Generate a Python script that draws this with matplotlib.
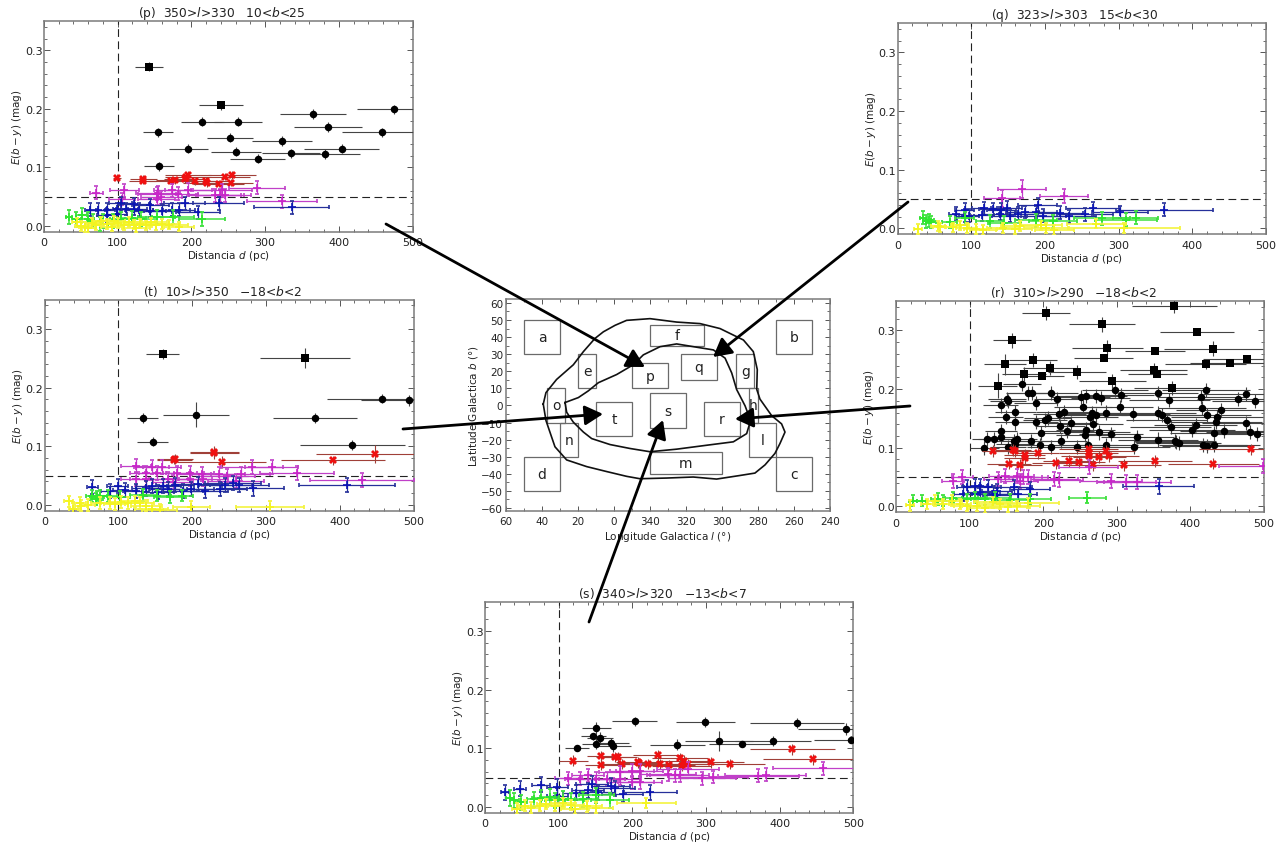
import matplotlib
matplotlib.use('Agg')
import matplotlib.pyplot as plt
from matplotlib.patches import Rectangle
from matplotlib.ticker import MultipleLocator

plt.rcParams['font.family'] = 'DejaVu Sans'
plt.rcParams['mathtext.fontset'] = 'dejavusans'

W, H = 1288, 845

# ---- panel p
p_sq_d = [143, 240]
p_sq_e = [.272, .206]
p_sq_xe = [19, 30]
p_sq_ye = [.008, .008]
p_ci_d = [155, 215, 263, 252, 196, 156, 261, 290, 323, 335, 381, 404, 365, 385, 459, 475]
p_ci_e = [.160, .178, .178, .151, .132, .102, .127, .115, .145, .124, .123, .132, .191, .169, .160, .199]
p_ci_xe = [20, 29, 33, 31, 26, 20, 34, 37, 41, 39, 48, 51, 45, 46, 55, 50]
p_ci_ye = .008
p_re_d = [99, 134, 135, 172, 178, 191, 195, 193, 205, 220, 221, 237, 245, 255, 254]
p_re_e = [.082, .077, .081, .077, .078, .080, .087, .083, .076, .077, .073, .072, .084, .087, .074]
p_re_xe = [6, 18, 18, 30, 26, 28, 31, 29, 29, 33, 32, 35, 34, 33, 30]
p_ma_d = [71, 109, 106, 153, 155, 174, 182, 196, 232, 239, 245, 242, 289, 323, 153, 159]
p_ma_e = [.057, .061, .046, .055, .057, .061, .055, .062, .052, .052, .052, .061, .065, .042, .046, .049]
p_ma_xe = [9, 20, 18, 26, 30, 25, 27, 32, 35, 33, 36, 40, 38, 48, 25, 28]
p_bl_d = [63, 73, 85, 85, 99, 99, 111, 122, 122, 129, 144, 144, 160, 173, 183, 191, 209, 237, 336, 104]
p_bl_e = [.028, .028, .028, .018, .020, .029, .029, .037, .029, .028, .035, .026, .026, .028, .028, .039, .023, .039, .032, .039]
p_bl_xe = [8, 10, 12, 13, 14, 15, 17, 20, 18, 19, 25, 22, 24, 25, 22, 28, 30, 35, 51, 16]
p_gr_d = [34, 44, 51, 67, 80, 94, 105, 119, 132, 153, 175, 214, 76, 60]
p_gr_e = [.016, .011, .019, .009, .009, .009, .012, .013, .012, .015, .015, .012, .003, .012]
p_gr_xe = [4, 6, 7, 9, 12, 14, 16, 20, 22, 25, 28, 31, 11, 8]
p_ye_d = [45, 50, 55, 65, 70, 78, 85, 92, 100, 108, 115, 122, 130, 138, 145, 152, 160, 170, 183, 60, 125, 95]
p_ye_e = [.006, .000, -.002, .005, .001, .008, .003, -.001, .005, .001, .007, .002, .004, .001, .006, .001, .003, .002, -.001, -.004, -.003, .009]
p_ye_xe = [7, 8, 8, 10, 11, 12, 13, 14, 15, 17, 18, 19, 20, 22, 22, 23, 24, 26, 20, 9, 19, 15]

# ---- panel q
q_ma_d = [142, 169, 226]
q_ma_e = [.051, .067, .055]
q_ma_xe = [24, 33, 32]
q_ma_ye = [.015, .015, .012]
q_bl_d = [80, 91, 97, 91, 115, 118, 130, 139, 141, 148, 152, 164, 173, 190, 188, 198, 220, 233, 254, 265, 302, 362]
q_bl_e = [.025, .032, .022, .022, .023, .034, .033, .025, .032, .035, .022, .025, .028, .040, .028, .022, .027, .021, .024, .034, .028, .032]
q_bl_xe = [10, 13, 14, 13, 16, 17, 19, 21, 20, 21, 24, 26, 26, 27, 28, 30, 32, 36, 38, 36, 38, 66]
q_gr_d = [35, 39, 43, 46, 71, 91, 125, 145, 188, 211, 278, 310, 323]
q_gr_e = [.018, .012, .014, .011, .011, .017, .012, .010, .014, .012, .017, .015, .018]
q_gr_xe = [5, 5, 6, 6, 10, 13, 18, 22, 28, 32, 38, 42, 30]
q_ye_d = [28, 55, 57, 75, 85, 94, 107, 116, 143, 159, 166, 195, 202, 213, 270, 308]
q_ye_e = [-.001, .004, .002, .002, .005, .001, -.001, -.003, .001, -.001, .004, .005, .001, -.003, .008, .001]
q_ye_xe = [5, 9, 9, 11, 12, 14, 17, 18, 22, 24, 25, 28, 30, 27, 40, 75]

# ---- panel r
r_sq_d = [378, 204, 280, 409, 158, 287, 431, 352, 282, 477, 454, 421, 186, 148, 209, 350, 355, 246, 198, 174, 294, 138, 375]
r_sq_e = [.342, .329, .310, .297, .283, .270, .269, .264, .253, .251, .244, .243, .249, .242, .236, .233, .225, .229, .222, .226, .213, .206, .202]
r_sq_xe = [58, 33, 45, 50, 26, 48, 67, 41, 40, 60, 55, 55, 33, 28, 36, 45, 40, 40, 30, 30, 45, 26, 52]
r_sq_ye = [.012, .012, .012, .003, .013, .014, .012, .003, .004, .003, .004, .009, .012, .018, .012, .012, .004, .012, .003, .012, .012, .022, .012]
r_ci_d = [171, 180, 185, 211, 298, 306, 356, 421, 475, 464, 414, 488, 371, 272, 278, 258, 251, 219, 151, 152, 142, 190, 254, 304, 416, 441, 162, 228, 222, 266, 285, 322, 356, 361, 423, 436, 263, 272, 149, 206, 202, 368, 162, 190, 435, 476, 238, 267, 373, 223, 143, 233, 258, 402, 407, 446, 481, 432, 197, 276, 292, 490, 143, 257, 328, 123, 133, 165, 161, 356, 184, 224, 379, 384, 417, 422, 432, 120, 152, 162, 195, 210, 246, 261, 285, 324, 380]
r_ci_e = [.208, .194, .194, .194, .198, .190, .194, .199, .191, .183, .186, .179, .181, .188, .185, .188, .187, .183, .183, .179, .172, .176, .169, .169, .167, .164, .161, .161, .157, .159, .160, .157, .159, .156, .156, .152, .153, .155, .152, .151, .147, .148, .143, .144, .144, .142, .142, .141, .135, .137, .128, .129, .131, .131, .139, .129, .127, .125, .125, .126, .124, .124, .118, .121, .119, .115, .115, .115, .112, .114, .111, .112, .111, .108, .105, .103, .105, .100, .102, .106, .104, .101, .102, .105, .104, .102, .110]
r_ci_xe = [26, 30, 32, 36, 45, 45, 55, 60, 58, 55, 60, 58, 55, 42, 40, 40, 40, 32, 26, 24, 24, 30, 40, 45, 60, 60, 28, 38, 36, 40, 44, 50, 52, 55, 60, 62, 38, 42, 24, 32, 30, 55, 28, 30, 62, 60, 36, 42, 55, 34, 22, 36, 40, 58, 56, 60, 60, 60, 30, 42, 44, 55, 22, 40, 50, 20, 22, 26, 26, 54, 28, 36, 56, 58, 60, 60, 62, 20, 24, 26, 30, 32, 38, 40, 44, 48, 55]
r_ci_ye = .012
r_re_d = [132, 159, 162, 154, 169, 175, 175, 193, 218, 235, 249, 262, 262, 262, 267, 276, 285, 290, 310, 352, 431, 482]
r_re_e = [.094, .096, .094, .073, .071, .087, .083, .091, .074, .077, .076, .097, .091, .086, .071, .084, .094, .086, .070, .078, .073, .097]
r_re_xe = [15, 25, 25, 30, 30, 28, 28, 28, 33, 35, 35, 40, 40, 38, 40, 36, 40, 40, 50, 50, 62, 70]
r_ma_d = [77, 90, 139, 148, 164, 173, 180, 215, 221, 262, 292, 313, 328, 499, 168]
r_ma_e = [.044, .050, .046, .052, .052, .050, .050, .047, .045, .067, .043, .041, .041, .069, .044]
r_ma_xe = [15, 14, 20, 22, 24, 25, 26, 32, 33, 40, 42, 40, 45, 60, 25]
r_bl_d = [91, 97, 107, 114, 114, 125, 132, 137, 137, 160, 166, 182, 357, 107]
r_bl_e = [.022, .033, .021, .024, .035, .033, .022, .027, .020, .033, .021, .030, .034, .034]
r_bl_xe = [12, 14, 15, 16, 17, 18, 20, 20, 19, 25, 25, 27, 48, 16]
r_gr_d = [23, 35, 57, 64, 78, 96, 107, 121, 134, 155, 182, 260]
r_gr_e = [.010, .010, .013, .010, .015, .012, .015, .012, .015, .011, .012, .015]
r_gr_xe = [5, 6, 9, 10, 12, 15, 17, 19, 22, 25, 28, 25]
r_ye_d = [19, 42, 53, 64, 76, 87, 96, 110, 121, 132, 141, 152, 164, 180]
r_ye_e = [.002, .004, .010, .004, .010, .004, .001, .001, -.002, .007, .004, -.001, .001, .006]
r_ye_xe = [5, 8, 10, 12, 14, 15, 17, 20, 22, 26, 28, 30, 32, 42]

# ---- panel s
s_ci_d = [125, 151, 147, 156, 151, 171, 173, 203, 261, 299, 318, 349, 391, 423, 490, 496]
s_ci_e = [.100, .135, .120, .118, .108, .109, .104, .146, .106, .145, .112, .108, .112, .143, .133, .114]
s_ci_xe = [16, 20, 17, 17, 20, 24, 25, 31, 37, 40, 46, 45, 52, 64, 65, 50]
s_ci_ye = [.004, .010, .006, .010, .010, .008, .010, .008, .009, .008, .017, .003, .009, .009, .010, .004]
s_re_d = [120, 158, 158, 176, 181, 186, 208, 209, 221, 235, 237, 249, 265, 267, 270, 276, 307, 332, 417, 445]
s_re_e = [.079, .086, .072, .085, .085, .073, .076, .075, .073, .088, .073, .071, .083, .070, .079, .073, .076, .073, .098, .081]
s_re_xe = [20, 20, 22, 25, 25, 28, 30, 30, 33, 34, 35, 36, 38, 40, 38, 40, 44, 48, 58, 68]
s_ma_d = [113, 129, 140, 151, 165, 183, 199, 210, 199, 210, 248, 258, 264, 276, 295, 310, 371, 381, 459, 183]
s_ma_e = [.049, .048, .054, .048, .048, .059, .062, .062, .042, .042, .056, .054, .054, .065, .049, .051, .053, .055, .066, .048]
s_ma_xe = [18, 20, 22, 24, 25, 28, 30, 32, 30, 30, 38, 38, 40, 42, 45, 47, 55, 55, 68, 28]
s_bl_d = [27, 47, 76, 98, 98, 123, 140, 145, 153, 171, 177, 187, 224]
s_bl_e = [.025, .031, .038, .034, .019, .024, .028, .039, .025, .036, .032, .022, .025]
s_bl_xe = [5, 8, 12, 14, 14, 17, 22, 22, 24, 26, 27, 28, 36]
s_gr_d = [34, 40, 49, 67, 76, 88, 95, 106, 117, 133, 151, 170]
s_gr_e = [.015, .011, .008, .013, .015, .017, .011, .014, .011, .013, .020, .011]
s_gr_xe = [5, 6, 8, 10, 12, 13, 14, 16, 18, 20, 24, 26]
s_ye_d = [43, 54, 63, 74, 83, 95, 106, 117, 122, 151, 219, 138]
s_ye_e = [-.003, .002, -.001, .002, .005, .002, .007, .003, -.003, -.001, .007, .001]
s_ye_xe = [7, 8, 10, 11, 13, 14, 16, 18, 19, 22, 40, 21]

# ---- panel t
t_sq_d = [160, 353]
t_sq_e = [.257, .250]
t_sq_xe = [22, 61]
t_sq_ye = [.008, .017]
t_ci_d = [133, 147, 205, 366, 417, 457, 494]
t_ci_e = [.148, .108, .154, .148, .102, .181, .178]
t_ci_xe = [21, 21, 45, 57, 71, 74, 65]
t_ci_ye = [.008, .008, .022, .008, .008, .008, .010]
t_re_d = [176, 177, 230, 230, 240, 391, 448]
t_re_e = [.077, .078, .091, .089, .073, .076, .087]
t_re_xe = [24, 24, 33, 33, 60, 70, 80]
t_re_ye = [.008, .008, .010, .010, .010, .008, .015]
t_ma_d = [124, 145, 159, 138, 152, 124, 168, 179, 197, 197, 213, 236, 247, 266, 259, 281, 308, 342, 430, 138, 174, 215]
t_ma_e = [.067, .064, .065, .054, .054, .044, .044, .054, .054, .044, .053, .053, .050, .052, .040, .064, .064, .054, .042, .044, .039, .044]
t_ma_xe = [20, 24, 26, 22, 24, 20, 26, 28, 32, 30, 34, 36, 38, 40, 38, 42, 36, 50, 70, 22, 27, 33]
t_bl_d = [65, 89, 99, 109, 124, 138, 145, 161, 154, 177, 187, 199, 217, 238, 245, 264, 282, 410, 208, 256, 168]
t_bl_e = [.030, .023, .033, .026, .024, .028, .033, .033, .022, .034, .024, .027, .024, .027, .034, .034, .028, .034, .036, .037, .027]
t_bl_xe = [8, 13, 14, 16, 18, 20, 21, 24, 22, 26, 28, 30, 32, 36, 36, 40, 42, 65, 32, 38, 25]
t_gr_d = [71, 75, 70, 86, 102, 134, 152, 170, 186, 64]
t_gr_e = [.013, .016, .010, .015, .013, .017, .016, .013, .016, .015]
t_gr_xe = [9, 10, 9, 12, 14, 18, 20, 22, 15, 8]
t_ye_d = [33, 48, 50, 59, 75, 89, 95, 104, 113, 122, 129, 138, 145, 156, 199, 306, 39]
t_ye_e = [.006, .003, -.001, .000, .003, .003, .002, .005, .003, .006, .003, -.001, -.007, -.008, -.004, -.004, -.007]
t_ye_xe = [6, 8, 8, 10, 12, 13, 14, 16, 17, 18, 19, 21, 22, 24, 25, 46, 6]

# ---- map: regions (name, l left, l right, b low, b high), l runs as 360-wrapped negative
region_name = ['a', 'b', 'c', 'd', 'e', 'f', 'g', 'h', 'l', 'm', 'n', 'o', 'p', 'q', 'r', 's', 't']
region_l1 = [50, -90, -90, 50, 20, -20, -68, -75, -75, -20, 30, 37, -10, -37, -50, -20, 10]
region_l2 = [30, -110, -110, 30, 10, -50, -78, -80, -90, -60, 20, 27, -30, -57, -70, -40, -10]
region_b1 = [30, 30, -50, -50, 10, 35, 10, -10, -30, -40, -30, -10, 10, 15, -18, -13, -18]
region_b2 = [50, 50, -30, -30, 30, 47, 30, 10, -10, -27, -10, 10, 25, 30, 2, 7, 2]

outer_l = [39.3, 37.8, 31.9, 22.6, 17, 10.6, 5.9, -.6, -7, -20, -34.8, -47.8, -58.9, -71.9, -77.4, -79.6, -79.3, -81.1, -87.6, -93.1, -95, -92.2, -89.4, -83.9, -78.3, -70, -57, -44, -29.3, -14.4, -7, 4.1, 15.2, 26.3, 32.8, 35.6, 37.8, 39.3]
outer_b = [.8, 7.5, 15.2, 23.8, 31.5, 39.2, 43.1, 46.9, 49.8, 50.8, 48.8, 47.9, 45, 38.3, 31.5, 21, 9.4, 3.7, -6, -10.8, -15.6, -22.3, -28.1, -34.8, -39.6, -41, -43.1, -41.9, -42.5, -42.9, -41.5, -38.7, -35.8, -31.9, -24.2, -15.6, -8.8, .8]
inner_l = [27.2, 19.8, 14.3, 8.7, -1.5, -10.7, -16.3, -25.6, -34.8, -44.1, -55.2, -61.7, -65.4, -68.1, -72.8, -75.9, -73.7, -66.3, -51.5, -34.8, -20, -8.9, 2.2, 12.4, 17, 22.6, 26.3, 27.2]
inner_b = [1.7, 4.6, 8.5, 13.3, 18.1, 23.8, 29.6, 34.4, 36, 34.4, 32.5, 27.7, 19, 9.4, -.2, -8.8, -16.5, -21.3, -23.3, -25.6, -27.1, -25.2, -22.9, -19.4, -15.6, -9.8, -4, 1.7]
map_tick_pos = [60, 40, 20, 0, -20, -40, -60, -80, -100, -120]
map_tick_lab = ['60', '40', '20', '0', '340', '320', '300', '280', '260', '240']


def new_axes(left, top, right, bottom):
    ax = fig.add_axes([left / W, 1 - bottom / H, (right - left) / W, (bottom - top) / H])
    for s in ax.spines.values():
        s.set_color('#7a7a7a')
        s.set_linewidth(1.1)
    ax.tick_params(which='major', direction='in', top=True, right=True, length=4.5,
                   width=0.7, color='#555555', labelsize=8, labelcolor='#222222', pad=4)
    ax.tick_params(which='minor', direction='in', top=True, right=True, length=2.2,
                   width=0.6, color='#555555')
    return ax


def group(ax, d, e, xe, ye, color, ecolor, marker, ms, mew=0.0, elw=0.8, z=3):
    ax.errorbar(d, e, xerr=xe, yerr=ye, fmt=marker, color=color, ecolor=ecolor, mfc=color, mec=color,
                ms=ms, mew=mew, elinewidth=elw, capsize=1.5, capthick=0.6, zorder=z, clip_on=True)


def black_sq(ax, d, e, xe, ye):
    group(ax, d, e, xe, ye, 'black', '#444444', 's', 5.2, z=3)


def black_ci(ax, d, e, xe, ye):
    group(ax, d, e, xe, ye, 'black', '#444444', 'o', 5.4, z=3)


def red(ax, d, e, xe, ye):
    group(ax, d, e, xe, ye, '#f01010', '#a04038', 'X', 6.2, z=4)


def magenta(ax, d, e, xe, ye):
    group(ax, d, e, xe, ye, '#c826c8', '#c040c8', '+', 5.5, 1.2, elw=0.9, z=5)


def blue(ax, d, e, xe, ye):
    group(ax, d, e, xe, ye, '#0a14b4', '#26309a', '+', 5.5, 1.2, elw=0.9, z=6)


def green(ax, d, e, xe, ye):
    group(ax, d, e, xe, ye, '#2ee62e', '#40e040', '+', 5.5, 1.3, elw=1.1, z=7)


def yellow(ax, d, e, xe, ye):
    group(ax, d, e, xe, ye, '#f4f420', '#f4f440', '+', 5.5, 1.3, elw=1.2, z=8)


def panel(left, top, right, bottom, title):
    ax = new_axes(left, top, right, bottom)
    ax.set_xlim(0, 500)
    ax.set_ylim(-0.0095, 0.35)
    ax.xaxis.set_major_locator(MultipleLocator(100))
    ax.xaxis.set_minor_locator(MultipleLocator(20))
    ax.yaxis.set_major_locator(MultipleLocator(0.1))
    ax.yaxis.set_minor_locator(MultipleLocator(0.02))
    ax.tick_params(axis='y', pad=1)
    ax.axvline(100, color='#222222', lw=0.8, ls=(0, (7, 4)), zorder=2)
    ax.axhline(0.05, color='#222222', lw=0.8, ls=(0, (7, 4)), zorder=2)
    ax.set_title(title, fontsize=8.8, color='#222222', pad=3.5, x=0.481)
    ax.set_xlabel(r'Distancia $d$ (pc)', fontsize=7.5, color='#222222', labelpad=1)
    ax.set_ylabel(r'$E(b-y)$ (mag)', fontsize=7.5, color='#222222', labelpad=0.5)
    return ax


fig = plt.figure(figsize=(W / 100, H / 100), dpi=100, facecolor='white')

ax_p = panel(44, 22, 412.5, 232.5, r'(p)  350>$l$>330   10<$b$<25')
black_sq(ax_p, p_sq_d, p_sq_e, p_sq_xe, p_sq_ye)
black_ci(ax_p, p_ci_d, p_ci_e, p_ci_xe, p_ci_ye)
red(ax_p, p_re_d, p_re_e, p_re_xe, .006)
magenta(ax_p, p_ma_d, p_ma_e, p_ma_xe, .011)
blue(ax_p, p_bl_d, p_bl_e, p_bl_xe, .011)
green(ax_p, p_gr_d, p_gr_e, p_gr_xe, .012)
yellow(ax_p, p_ye_d, p_ye_e, p_ye_xe, .008)

ax_q = panel(897.5, 24, 1266, 235, r'(q)  323>$l$>303   15<$b$<30')
magenta(ax_q, q_ma_d, q_ma_e, q_ma_xe, q_ma_ye)
blue(ax_q, q_bl_d, q_bl_e, q_bl_xe, .011)
green(ax_q, q_gr_d, q_gr_e, q_gr_xe, .011)
yellow(ax_q, q_ye_d, q_ye_e, q_ye_xe, .008)

ax_r = panel(896, 302, 1264, 513, r'(r)  310>$l$>290   $-$18<$b$<2')
black_sq(ax_r, r_sq_d, r_sq_e, r_sq_xe, r_sq_ye)
black_ci(ax_r, r_ci_d, r_ci_e, r_ci_xe, r_ci_ye)
red(ax_r, r_re_d, r_re_e, r_re_xe, .010)
magenta(ax_r, r_ma_d, r_ma_e, r_ma_xe, .012)
blue(ax_r, r_bl_d, r_bl_e, r_bl_xe, .012)
green(ax_r, r_gr_d, r_gr_e, r_gr_xe, .010)
yellow(ax_r, r_ye_d, r_ye_e, r_ye_xe, .009)

ax_s = panel(485, 602.5, 853.5, 813.5, r'(s)  340>$l$>320   $-$13<$b$<7')
black_ci(ax_s, s_ci_d, s_ci_e, s_ci_xe, s_ci_ye)
red(ax_s, s_re_d, s_re_e, s_re_xe, .009)
magenta(ax_s, s_ma_d, s_ma_e, s_ma_xe, .011)
blue(ax_s, s_bl_d, s_bl_e, s_bl_xe, .013)
green(ax_s, s_gr_d, s_gr_e, s_gr_xe, .013)
yellow(ax_s, s_ye_d, s_ye_e, s_ye_xe, .009)

ax_t = panel(44.5, 300.5, 413.5, 511.5, r'(t)  10>$l$>350   $-$18<$b$<2')
black_sq(ax_t, t_sq_d, t_sq_e, t_sq_xe, t_sq_ye)
black_ci(ax_t, t_ci_d, t_ci_e, t_ci_xe, t_ci_ye)
red(ax_t, t_re_d, t_re_e, t_re_xe, t_re_ye)
magenta(ax_t, t_ma_d, t_ma_e, t_ma_xe, .012)
blue(ax_t, t_bl_d, t_bl_e, t_bl_xe, .012)
green(ax_t, t_gr_d, t_gr_e, t_gr_xe, .010)
yellow(ax_t, t_ye_d, t_ye_e, t_ye_xe, .010)

# mapa central
ax_m = new_axes(506, 300, 830, 511.5)
ax_m.set_xlim(60, -120)
ax_m.set_ylim(-61.5, 62.3)
ax_m.set_xticks(map_tick_pos)
ax_m.set_xticklabels(map_tick_lab)
ax_m.xaxis.set_minor_locator(MultipleLocator(10))
ax_m.yaxis.set_major_locator(MultipleLocator(10))
ax_m.yaxis.set_minor_locator(MultipleLocator(5))
ax_m.tick_params(which='major', length=3.5, labelsize=7.5)
ax_m.tick_params(which='minor', length=2)
ax_m.tick_params(axis='y', pad=2)
ax_m.set_xlabel(r'Longitude Galactica $l$ (°)', fontsize=7.5, color='#222222', labelpad=2)
ax_m.set_ylabel(r'Latitude Galactica $b$ (°)', fontsize=7.5, color='#222222', labelpad=1)
for name, l1, l2, b1, b2 in zip(region_name, region_l1, region_l2, region_b1, region_b2):
    ax_m.add_patch(Rectangle((l2, b1), l1 - l2, b2 - b1, fill=False, ec='#6a6a6a', lw=0.9, zorder=2))
    ax_m.text((l1 + l2) / 2, (b1 + b2) / 2, name, ha='center', va='center', fontsize=10, color='#222222', zorder=3)
ax_m.plot(outer_l, outer_b, color='#111111', lw=1.2, zorder=4)
ax_m.plot(inner_l, inner_b, color='#111111', lw=1.2, zorder=4)

# flechas (pixeles de la figura)
arrow_from = [(386, 225), (908, 203), (403, 430), (910, 407), (589, 623)]
arrow_to = [(645, 368), (713, 358), (603, 415), (735, 420), (663, 421)]
ax_o = fig.add_axes([0, 0, 1, 1], zorder=20)
ax_o.set_xlim(0, W)
ax_o.set_ylim(H, 0)
ax_o.axis('off')
for a, b in zip(arrow_from, arrow_to):
    ax_o.annotate('', xy=b, xytext=a,
                  arrowprops=dict(arrowstyle='-|>,head_length=0.55,head_width=0.3', color='black', lw=2,
                                  mutation_scale=20, shrinkA=0, shrinkB=0))

fig.savefig('out.png', dpi=100, facecolor='white')
